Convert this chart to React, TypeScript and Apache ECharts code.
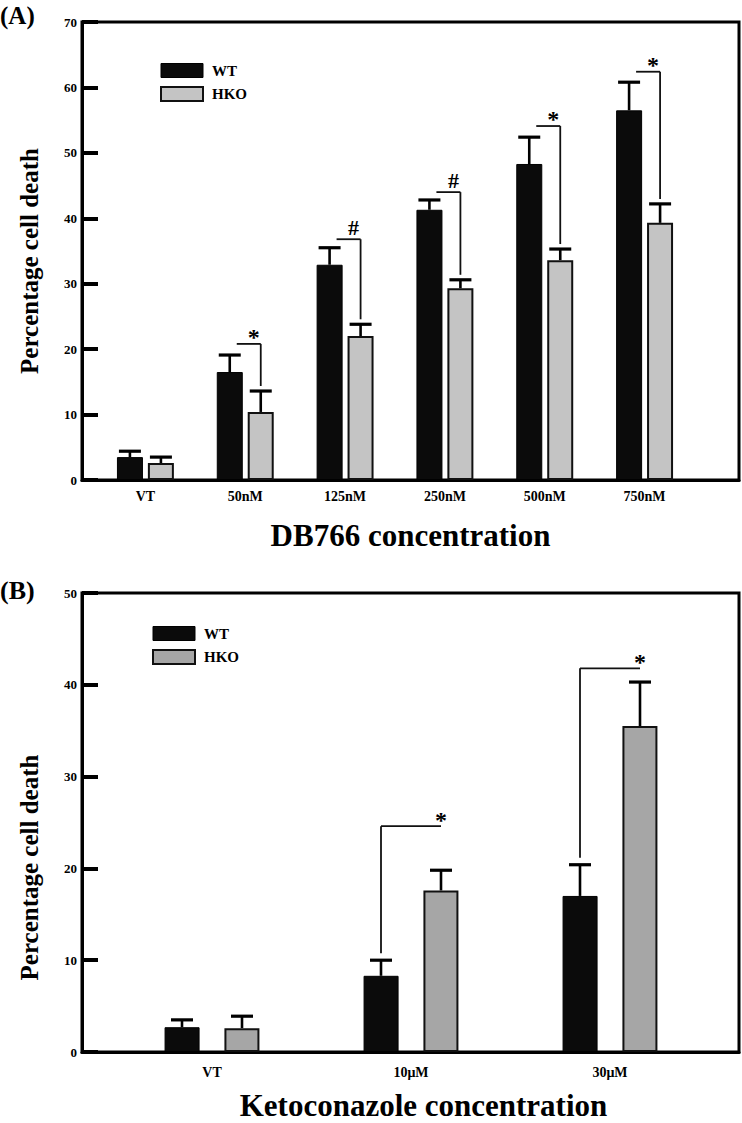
import React, { useEffect, useRef } from 'react';
import * as echarts from 'echarts';

const FONT = '"Liberation Serif", "Times New Roman", serif';

// Panel A: DB766
const catsA = ['VT', '50nM', '125nM', '250nM', '500nM', '750nM'];
const wtA = [3.5, 16.5, 32.9, 41.3, 48.3, 56.5];
const wtErrA = [0.9, 2.6, 2.6, 1.5, 4.1, 4.3];
const hkoA = [2.6, 10.4, 22.0, 29.3, 33.6, 39.3];
const hkoErrA = [0.9, 3.2, 1.8, 1.3, 1.7, 2.9];
const sigMarkA = ['', '*', '#', '#', '*', '*'];
const sigLevelA: (number | null)[] = [null, 20.8, 36.8, 44.0, 54.1, 62.4];
const yTicksA = [0, 10, 20, 30, 40, 50, 60, 70];

// Panel B: Ketoconazole
const catsB = ['VT', '10μM', '30μM'];
const wtB = [2.7, 8.3, 17.0];
const wtErrB = [0.8, 1.7, 3.4];
const hkoB = [2.6, 17.6, 35.5];
const hkoErrB = [1.3, 2.2, 4.8];
const sigMarkB = ['', '*', '*'];
const sigLevelB: (number | null)[] = [null, 24.6, 41.8];
const yTicksB = [0, 10, 20, 30, 40, 50];

const WT_COLOR = '#0b0b0b';
const HKO_A_COLOR = '#c4c4c4';
const HKO_B_COLOR = '#a6a6a6';

function errSeries(xi: number, yi: number, means: number[], errs: number[], offset: number, capHalf: number) {
  return {
    type: 'custom',
    xAxisIndex: xi,
    yAxisIndex: yi,
    silent: true,
    z: 5,
    data: means.map((m, i) => [i, m, errs[i]]),
    renderItem: (params: any, api: any) => {
      const i = api.value(0);
      const m = api.value(1);
      const e = api.value(2);
      const base = api.coord([i, m]);
      const top = api.coord([i, m + e]);
      const x = base[0] + offset;
      return {
        type: 'group',
        children: [
          { type: 'line', shape: { x1: x, y1: base[1], x2: x, y2: top[1] }, style: { stroke: '#000', lineWidth: 2.6 } },
          { type: 'line', shape: { x1: x - capHalf, y1: top[1], x2: x + capHalf, y2: top[1] }, style: { stroke: '#000', lineWidth: 3.2 } },
        ],
      };
    },
  };
}

function bracketSeriesA(xi: number, yi: number) {
  const idx = sigLevelA.map((l, i) => (l == null ? -1 : i)).filter((i) => i >= 0);
  return {
    type: 'custom',
    xAxisIndex: xi,
    yAxisIndex: yi,
    silent: true,
    z: 6,
    data: idx.map((i) => [i, sigLevelA[i] as number, hkoA[i] + hkoErrA[i]]),
    renderItem: (params: any, api: any) => {
      const i = api.value(0);
      const c = api.coord([i, api.value(1)]);
      const yL = c[1];
      const yE = api.coord([i, api.value(2)])[1] - 5;
      const x0 = c[0] - 15.5 + 7;
      const x1 = c[0] + 15.5;
      const mark = sigMarkA[i];
      return {
        type: 'group',
        children: [
          { type: 'line', shape: { x1: x0, y1: yL, x2: x1, y2: yL }, style: { stroke: '#111', lineWidth: 1.8 } },
          { type: 'line', shape: { x1: x1, y1: yL, x2: x1, y2: yE }, style: { stroke: '#111', lineWidth: 1.8 } },
          {
            type: 'text',
            x: x1 - 7,
            y: yL - (mark === '#' ? 12 : 7),
            style: { text: mark, fontSize: mark === '#' ? 22 : 24, fontWeight: 'bold', fontFamily: FONT, fill: '#000', align: 'center', verticalAlign: 'middle' },
          },
        ],
      };
    },
  };
}

function bracketSeriesB(xi: number, yi: number) {
  const idx = sigLevelB.map((l, i) => (l == null ? -1 : i)).filter((i) => i >= 0);
  return {
    type: 'custom',
    xAxisIndex: xi,
    yAxisIndex: yi,
    silent: true,
    z: 6,
    data: idx.map((i) => [i, sigLevelB[i] as number, wtB[i] + wtErrB[i]]),
    renderItem: (params: any, api: any) => {
      const i = api.value(0);
      const c = api.coord([i, api.value(1)]);
      const yL = c[1];
      const yE = api.coord([i, api.value(2)])[1] - 7;
      const xW = c[0] - 30;
      const xH = c[0] + 30;
      const mark = sigMarkB[i];
      return {
        type: 'group',
        children: [
          { type: 'line', shape: { x1: xW, y1: yL, x2: xH, y2: yL }, style: { stroke: '#111', lineWidth: 1.8 } },
          { type: 'line', shape: { x1: xW, y1: yL, x2: xW, y2: yE }, style: { stroke: '#111', lineWidth: 1.8 } },
          {
            type: 'text',
            x: xH,
            y: yL - 6,
            style: { text: mark, fontSize: 24, fontWeight: 'bold', fontFamily: FONT, fill: '#000', align: 'center', verticalAlign: 'middle' },
          },
        ],
      };
    },
  };
}

function frameY(gridIndex: number, ticks: number[], namePad: number[]) {
  return {
    gridIndex,
    type: 'value',
    z: 10,
    min: ticks[0],
    max: ticks[ticks.length - 1],
    interval: 10,
    axisLine: { show: true, lineStyle: { color: '#000', width: 3 } },
    axisTick: { show: true, inside: true, length: 16, lineStyle: { color: '#000', width: 4 } },
    axisLabel: { show: true, margin: 5, fontSize: 13, fontWeight: 'bold', fontFamily: FONT, color: '#000' },
    splitLine: { show: false },
    name: 'Percentage cell death',
    nameLocation: 'middle',
    nameGap: 40,
    nameTextStyle: { fontSize: 25, fontWeight: 'bold', fontFamily: FONT, color: '#000', padding: namePad },
  };
}

function frameX(gridIndex: number, name: string, gap: number, pad: number[]) {
  return {
    gridIndex,
    type: 'value',
    min: 0,
    max: 1,
    show: true,
    axisLine: { show: true, lineStyle: { color: '#000', width: 3 } },
    axisTick: { show: false },
    axisLabel: { show: false },
    splitLine: { show: false },
    name,
    nameLocation: 'middle',
    nameGap: gap,
    nameTextStyle: { fontSize: 31, fontWeight: 'bold', fontFamily: FONT, color: '#000', padding: pad },
  };
}

function dataX(gridIndex: number, data: string[], margin: number) {
  return {
    gridIndex,
    type: 'category',
    data,
    axisLine: { show: false },
    axisTick: { show: false },
    axisLabel: { interval: 0, margin, fontSize: 14, fontWeight: 'bold', fontFamily: FONT, color: '#000' },
    splitLine: { show: false },
  };
}

function legendFor(left: number, top: number, hkoColor: string) {
  return {
    left,
    top,
    orient: 'vertical',
    itemWidth: 42,
    itemHeight: 14,
    itemGap: 8,
    icon: 'rect',
    selectedMode: false,
    data: [
      { name: 'WT', itemStyle: { color: WT_COLOR, borderColor: '#000', borderWidth: 1 } },
      { name: 'HKO', itemStyle: { color: hkoColor, borderColor: '#111', borderWidth: 2 } },
    ],
    textStyle: { fontSize: 15, fontWeight: 'bold', fontFamily: FONT, color: '#000', padding: [0, 0, 0, 4] },
  };
}

export default function App() {
  const ref = useRef<HTMLDivElement>(null);
  useEffect(() => {
    if (!ref.current) return;
    const chart = echarts.init(ref.current, null, { renderer: 'svg' });
    const option: any = {
      animation: false,
      backgroundColor: '#fff',
      textStyle: { fontFamily: FONT },
      grid: [
        { left: 82, top: 22, width: 657, height: 458, show: true, borderColor: '#000', borderWidth: 3, backgroundColor: 'transparent' },
        { left: 95.5, top: 22, width: 599, height: 458 },
        { left: 82, top: 593, width: 657, height: 459, show: true, borderColor: '#000', borderWidth: 3, backgroundColor: 'transparent' },
        { left: 112.5, top: 593, width: 597, height: 459 },
      ],
      xAxis: [
        frameX(0, 'DB766 concentration', 40, [0, 0, 0, 0]),
        dataX(1, catsA, 9),
        frameX(2, 'Ketoconazole concentration', 38, [0, 0, 0, 26]),
        dataX(3, catsB, 13),
      ],
      yAxis: [
        frameY(0, yTicksA, [0, 20, 0, 0]),
        { gridIndex: 1, type: 'value', min: yTicksA[0], max: yTicksA[yTicksA.length - 1], show: false },
        frameY(2, yTicksB, [0, 90, 0, 0]),
        { gridIndex: 3, type: 'value', min: yTicksB[0], max: yTicksB[yTicksB.length - 1], show: false },
      ],
      legend: [legendFor(155, 58, HKO_A_COLOR), legendFor(147, 621, HKO_B_COLOR)],
      graphic: [
        { type: 'text', left: 0, top: 3, style: { text: '(A)', fontSize: 25, fontWeight: 'bold', fontFamily: FONT, fill: '#000' } },
        { type: 'text', left: 0, top: 577, style: { text: '(B)', fontSize: 26, fontWeight: 'bold', fontFamily: FONT, fill: '#000' } },
      ],
      series: [
        { type: 'bar', name: 'WT', xAxisIndex: 1, yAxisIndex: 1, data: wtA, barWidth: 26, barGap: '19%', itemStyle: { color: WT_COLOR, borderColor: '#000', borderWidth: 1 } },
        { type: 'bar', name: 'HKO', xAxisIndex: 1, yAxisIndex: 1, data: hkoA, barWidth: 26, barGap: '19%', itemStyle: { color: HKO_A_COLOR, borderColor: '#111', borderWidth: 2 } },
        errSeries(1, 1, wtA, wtErrA, -15.5, 11),
        errSeries(1, 1, hkoA, hkoErrA, 15.5, 11),
        bracketSeriesA(1, 1),
        { type: 'bar', name: 'WT', xAxisIndex: 3, yAxisIndex: 3, data: wtB, barWidth: 35, barGap: '71%', itemStyle: { color: WT_COLOR, borderColor: '#000', borderWidth: 1 } },
        { type: 'bar', name: 'HKO', xAxisIndex: 3, yAxisIndex: 3, data: hkoB, barWidth: 35, barGap: '71%', itemStyle: { color: HKO_B_COLOR, borderColor: '#111', borderWidth: 2 } },
        errSeries(3, 3, wtB, wtErrB, -30, 11),
        errSeries(3, 3, hkoB, hkoErrB, 30, 11),
        bracketSeriesB(3, 3),
      ],
    };
    chart.setOption(option);
    return () => chart.dispose();
  }, []);
  return (
    <div
      ref={ref}
      style={{ position: 'absolute', left: 0, top: 0, width: 742, height: 1123, background: '#fff' }}
    />
  );
}
